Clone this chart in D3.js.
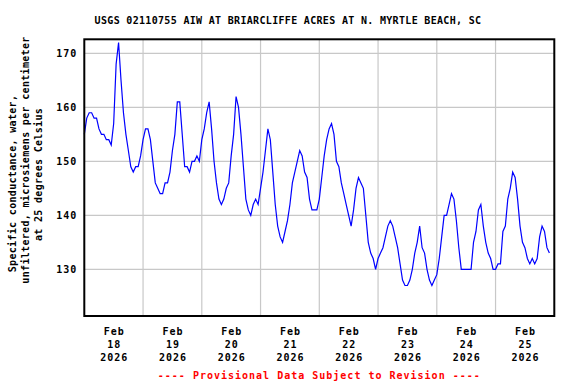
<!DOCTYPE html>
<html>
<head>
<meta charset="utf-8">
<script src="https://cdn.jsdelivr.net/npm/d3@7"></script>
<style>
  body { margin: 0; background: #fff; }
  text { font-family: "DejaVu Sans Mono", monospace; font-weight: bold; }
</style>
</head>
<body>
<div id="chart"></div>
<script>
const title = "USGS 02110755 AIW AT BRIARCLIFFE ACRES AT N. MYRTLE BEACH, SC";
const yLabelLines = ["Specific conductance, water,", "unfiltered, microsiemens per centimeter", "at 25 degrees Celsius"];
const footer = "---- Provisional Data Subject to Revision ----";
const yTicks = [130, 140, 150, 160, 170];
const dayLabels = ["18", "19", "20", "21", "22", "23", "24", "25"];
const startTime = new Date(2026, 1, 18, 0, 0);
// hourly readings from Feb 18 00:00
const conductance = [
  155, 158, 159, 159, 158, 158, 156, 155, 155, 154, 154, 153,
  157, 168, 172, 165, 159, 155, 152, 149, 148, 149, 149, 151,
  154, 156, 156, 154, 150, 146, 145, 144, 144, 146, 146, 148,
  152, 155, 161, 161, 155, 149, 149, 148, 150, 150, 151, 150,
  154, 156, 159, 161, 156, 150, 146, 143, 142, 143, 145, 146,
  151, 155, 162, 160, 155, 149, 143, 141, 140, 142, 143, 142,
  145, 148, 152, 156, 154, 148, 142, 138, 136, 135, 137, 139,
  142, 146, 148, 150, 152, 151, 148, 147, 143, 141, 141, 141,
  143, 147, 151, 154, 156, 157, 155, 150, 149, 146, 144, 142,
  140, 138, 141, 145, 147, 146, 145, 140, 135, 133, 132, 130,
  132, 133, 134, 136, 138, 139, 138, 136, 134, 131, 128, 127,
  127, 128, 130, 133, 135, 138, 134, 133, 130, 128, 127, 128,
  129, 132, 136, 140, 140, 142, 144, 143, 139, 134, 130, 130,
  130, 130, 130, 135, 137, 141, 142, 138, 135, 133, 132, 130,
  130, 131, 131, 137, 138, 143, 145, 148, 147, 143, 138, 135,
  134, 132, 131, 132, 131, 132, 136, 138, 137, 134, 133
];

const width = 576, height = 384;
const margin = { top: 39.3, right: 21.7, bottom: 68, left: 84.3 };
const w = width - margin.left - margin.right;
const h = height - margin.top - margin.bottom;

const svg = d3.select("#chart")
    .append("svg")
    .attr("width", width)
    .attr("height", height);

const g = svg.append("g")
    .attr("transform", `translate(${margin.left},${margin.top})`);

const data = conductance.map(function(v, i) {
    return { date: d3.timeHour.offset(startTime, i), value: v };
});

const x = d3.scaleTime()
    .domain([startTime, d3.timeDay.offset(startTime, 8)])
    .range([0, w]);

const y = d3.scaleLinear()
    .domain([121.35, 172.6])
    .range([h, 0]);

// grid
g.selectAll(".hgrid")
    .data(yTicks)
    .enter().append("line")
    .attr("x1", 0).attr("x2", w)
    .attr("y1", function(d) { return y(d); })
    .attr("y2", function(d) { return y(d); })
    .attr("stroke", "#c8c8c8")
    .attr("stroke-width", 1.2);

const days = d3.timeDay.range(d3.timeDay.offset(startTime, 1), d3.timeDay.offset(startTime, 8));
g.selectAll(".vgrid")
    .data(days)
    .enter().append("line")
    .attr("x1", function(d) { return x(d); })
    .attr("x2", function(d) { return x(d); })
    .attr("y1", 0).attr("y2", h)
    .attr("stroke", "#c8c8c8")
    .attr("stroke-width", 1.2);

// series
g.append("path")
    .datum(data)
    .attr("fill", "none")
    .attr("stroke", "#0000ff")
    .attr("stroke-width", 1.2)
    .attr("d", d3.line()
        .x(function(d) { return x(d.date); })
        .y(function(d) { return y(d.value); }));

// frame
g.append("rect")
    .attr("width", w)
    .attr("height", h)
    .attr("fill", "none")
    .attr("stroke", "#000")
    .attr("stroke-width", 2);

// y tick labels
g.selectAll(".ylab")
    .data(yTicks)
    .enter().append("text")
    .attr("x", -7)
    .attr("y", function(d) { return y(d) + 3.5; })
    .attr("text-anchor", "end")
    .attr("font-size", 10)
    .attr("letter-spacing", 1)
    .text(function(d) { return d; });

// x labels at noon
const xl = g.selectAll(".xlab")
    .data(dayLabels)
    .enter().append("text")
    .attr("text-anchor", "middle")
    .attr("font-size", 10)
    .attr("letter-spacing", 1)
    .attr("transform", function(d, i) {
        return `translate(${x(d3.timeHour.offset(startTime, i * 24 + 12)) + 0.5},${h + 18.5})`;
    });
xl.append("tspan").attr("x", 0).attr("y", 0).text("Feb");
xl.append("tspan").attr("x", 0).attr("y", 13).text(function(d) { return d; });
xl.append("tspan").attr("x", 0).attr("y", 26).text("2026");

svg.append("text")
    .attr("x", 288)
    .attr("y", 24)
    .attr("text-anchor", "middle")
    .attr("font-size", 10)
    .attr("letter-spacing", 0.32)
    .text(title);

const yCenters = [183.5, 160, 174.5];
yLabelLines.forEach(function(line, i) {
    svg.append("text")
        .attr("transform", `translate(${15.5 + i * 13},${yCenters[i]}) rotate(-90)`)
        .attr("text-anchor", "middle")
        .attr("font-size", 10)
        .attr("letter-spacing", 0.32)
        .text(line);
});

svg.append("text")
    .attr("x", margin.left + w / 2)
    .attr("y", 378.5)
    .attr("text-anchor", "middle")
    .attr("font-size", 10)
    .attr("letter-spacing", 1)
    .attr("fill", "#ff0000")
    .text(footer);
</script>
</body>
</html>
